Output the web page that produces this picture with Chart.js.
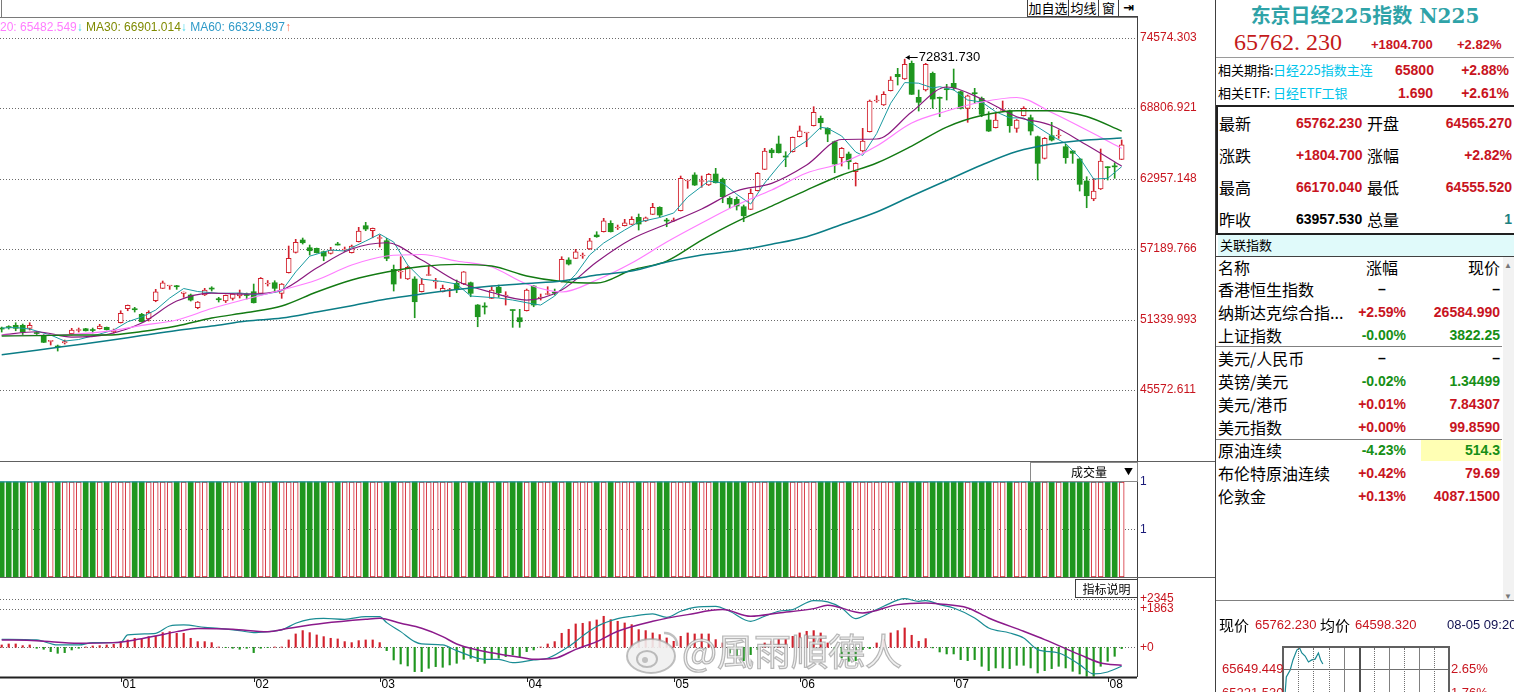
<!DOCTYPE html>
<html lang="zh-CN">
<head>
<meta charset="utf-8">
<title>东京日经225指数 N225</title>
<script src="https://cdn.jsdelivr.net/npm/chart.js@4.4.1/dist/chart.umd.min.js"></script>
<style>
html,body{margin:0;padding:0;background:#fff}
body{position:relative;width:1514px;height:692px;overflow:hidden;font-family:"Liberation Sans",Arial,"Noto Sans CJK SC",sans-serif;color:#000}
canvas{position:absolute;display:block}
.a{position:absolute;height:20px;line-height:20px;white-space:nowrap}
</style>
</head>
<body>
<canvas id="kline" width="1215" height="443" style="left:0;top:18px"></canvas>
<canvas id="vol" width="1215" height="115" style="left:0;top:462px"></canvas>
<canvas id="macd" width="1215" height="114" style="left:0;top:578px"></canvas>
<canvas id="mini" width="166" height="45" style="left:1283px;top:647px"></canvas>
<script>
/* ── 日K 数据 (按画面读取) ── */
const priceTicks  = [45572.611, 51339.993, 57189.766, 62957.148, 68806.921, 74574.303];
const monthIdx    = [17, 36, 54, 75, 96, 114, 136, 158];
const monthLabels = ['01', '02', '03', '04', '05', '06', '07', '08'];

const opens = [
	50678,50760,50900,50900,50653,50266,50077,49582,49153,49442,
	50208,50472,50620,50513,50620,50735,50348,51114,52268,52244,
	51807,51419,52927,53949,54139,54114,53537,53397,52350,53397,
	53932,53068,52903,53125,53315,53438,53669,53537,54303,54411,
	53537,55234,56915,57929,57294,57245,56965,56833,57558,57105,
	56882,57789,59107,58696,58053,57871,55515,55292,54715,54715,
	53669,55004,54468,53669,53768,54361,54303,54411,52573,52449,
	53125,54032,53315,52161,51527,52103,54139,53150,53438,53603,
	54493,56281,56421,56611,57188,58341,58614,59305,58918,59107,
	59223,59799,59495,60047,60623,59536,59495,60343,62791,63285,
	62749,62461,63367,62931,61365,61283,60673,60459,61991,63755,
	65345,65839,64809,65205,66441,66746,67347,67957,67133,66029,
	64710,65015,63557,65263,66853,69383,69053,70231,71583,71195,
	72489,69688,70289,71665,69688,70372,70841,70149,68781,70042,
	69605,67817,67183,68600,68559,67133,68171,68007,66441,64661,
	66523,66499,65617,65263,64603,62791,61308,62131,63944,64030,
	64565.27];
const highs = [
	50760,50868,51114,51007,51114,50373,50142,49648,49277,49690,
	50653,50678,50653,50678,50982,50760,50595,52103,52573,52384,
	51889,52103,53867,54551,54197,54197,53644,53479,52861,53949,
	54081,53207,53397,53521,53809,53562,54303,54839,54592,54575,
	54345,57435,57986,58094,57517,57270,57023,57328,57740,57352,
	57517,58976,59388,58918,58341,58069,55869,56553,55787,54905,
	54773,55787,54773,54221,53949,54633,55333,54468,52614,52762,
	54081,54221,53669,52161,52219,53891,54180,53479,54081,53891,
	56553,56470,57162,56858,58069,58614,59718,59520,59165,59634,
	59849,60072,59824,60953,60673,59718,59742,63203,62873,63475,
	63203,63409,63837,63038,61497,61472,60813,62131,63491,65485,
	65485,66499,65205,66417,67323,66787,68913,68147,67183,66087,
	65551,65180,64299,67133,69465,69819,70149,71385,72077,72831.73,
	72679,70289,72489,71772,69712,70759,72019,70207,69877,70429,
	69712,68501,68369,69383,68641,67858,68913,68229,66499,66375,
	67627,66993,65815,65303,64644,63145,63013,65428,63969,64299,
	66170.04];
const lows = [
	50348,50595,50455,50101,50513,50077,49483,49277,48783,49360,
	50101,50348,50431,50266,50595,50513,50266,51090,52103,51996,
	51173,51255,52845,53933,53867,53867,53208,52903,52268,53356,
	53727,52820,52779,52985,53150,53068,52738,53479,54139,53751,
	53125,55210,56858,57599,56693,56858,56223,56775,57517,56981,
	56858,57764,58696,58118,57352,56223,53727,54773,54674,51527,
	53644,55004,53949,53644,53257,53587,54262,53257,50785,51831,
	53109,53208,52573,50735,50735,52079,52433,52985,53438,53397,
	54468,55869,56405,56421,57147,58152,58589,58589,58794,59083,
	59206,58753,59454,60031,59824,59025,59454,60319,62189,62420,
	62272,62420,62626,61003,60541,60401,59437,60442,61967,63738,
	64710,65098,63969,65180,66417,65617,67323,67051,66029,63474,
	64027,63779,62379,65180,66828,69276,69012,70207,70701,71154,
	69918,68559,70207,68781,68089,69465,70289,68724,67627,69193,
	68089,66869,67158,68501,66804,66804,68147,66581,62873,64603,
	66087,66309,64249,64249,61967,60591,61167,62091,62873,63013,
	64555.52];
const closes = [
	50595,50719,50653,50348,50900,50225,49500,49631,49112,49566,
	50513,50513,50455,50472,50843,50538,50513,51889,52548,52186,
	51197,51971,53669,54411,54197,54081,53644,52985,52820,53809,
	53891,53010,53372,53479,53562,53356,52763,54773,54386,53949,
	54303,56420,57739,57706,57047,56882,56611,57105,57517,57188,
	57435,58671,58835,58893,58135,56420,54303,55375,55680,52845,
	54303,55045,54509,53949,53809,53867,55316,53537,51609,52408,
	53809,53587,53397,52120,51197,53809,52573,53232,53479,53562,
	56338,55951,56965,56652,57871,58201,59520,58614,58976,59355,
	59635,59247,59767,60623,59989,59495,59536,63013,62815,62461,
	62832,63343,62650,61497,60895,60731,59931,61777,63425,65263,
	65122,65122,64768,66392,66935,66770,68452,67594,66663,64191,
	65485,64381,64249,66087,69383,69424,69935,71113,71385,72407,
	69935,69275,72407,69547,69605,70314,70479,68781,69819,69984,
	68287,66911,67817,68641,67347,67817,68781,66911,64249,66309,
	66169,66540,64710,65073,62518,61579,61967,64439,63887,63957.53,
	65762.23];

/* ── 均线 (按画面采样) ── */
const maIdx = [0,5,10,15,20,25,30,35,40,45,50,55,60,65,70,75,80,85,90,95,100,105,110,115,120,125,130,135,140,145,150,155,160];
const ma10 = [50101,50373,49936,50142,51090,52902,53562,53480,53809,55622,57188,57706,56281,54551,53603,52985,53809,56117,58011,59247,60483,61967,62601,64109,66210,66252,68476,70536,69548,68089,67364,65757,64027];
const ma20 = [50093,50068,50151,50396,50891,51337,52285,53068,53809,54633,55869,56611,56735,56199,55705,54304,53645,54633,56034,57764,59330,60813,62049,63450,64274,65674,67570,68559,69300,69671,68435,66993,65483];
const ma30 = [50019,50052,50101,50101,50390,50843,51502,51955,52491,53645,54633,55292,55745,55927,55787,54963,54510,54386,55457,56199,57929,59453,60731,62049,63285,64274,65675,67240,68188,68583,68583,68105,66901];
const ma60 = [48480,48850,49240,49630,50060,50480,50840,51260,51500,52000,52520,53070,53480,53850,54140,54350,54550,55050,55370,56120,56690,57060,57580,58200,59210,60240,61560,62830,64110,65220,65840,66170,66330];
const ma5Idx = [0,2,4,7,9,11,14,16,18,20,22,24,26,28,31,34,37,40,42,44,47,49,52,54,56,58,60,63,65,67,71,73,76,77,79,82,84,86,89,91,94,96,98,101,103,105,107,109,111,113,115,117,118,120,122,123,125,127,129,131,133,134,136,138,140,142,144,146,148,150,152,154,156,158,160];
const ma5 = [50678,50719,50595,50101,49607,49731,50183,50513,51197,51584,52161,53150,53933,53686,53537,53562,53397,53727,55300,56600,57105,57023,57847,58424,57764,55869,54715,54509,54303,53315,53150,52985,52655,52573,53315,55100,56700,57682,58753,59412,59783,60154,61472,62791,62626,61700,60893,62626,64027,65345,66100,67216,67133,66499,65180,64900,66700,69200,70900,70850,70454,70561,70300,69465,69300,68501,68000,67982,67240,66499,65881,64700,62955,63013,63969];

/* ── 成交量 ── */
const volumes = [
	1,1,1,1,1,1,1,1,1,1, 1,1,1,1,1,1,1,1,1,1, 1,1,1,1,1,1,1,1,1,1, 1,1,1,1,1,1,1,1,1,1,
	1,1,1,1,1,1,1,1,1,1, 1,1,1,1,1,1,1,1,1,1, 1,1,1,1,1,1,1,1,1,1, 1,1,1,1,1,1,1,1,1,1,
	1,1,1,1,1,1,1,1,1,1, 1,1,1,1,1,1,1,1,1,1, 1,1,1,1,1,1,1,1,1,1, 1,1,1,1,1,1,1,1,1,1,
	1,1,1,1,1,1,1,1,1,1, 1,1,1,1,1,1,1,1,1,1, 1,1,1,1,1,1,1,1,1,1, 1,1,1,1,1,1,1,1,1,1,
	1];
const volMaIdx = [-0.3, 160];
const volMa    = [1, 1];
const volTicks = [0.5, 1];

/* ── MACD ── */
const macdHist = [
	112,160,160,80,112,-48,-96,-209,-289,-257,
	-129,-48,16,64,80,112,145,273,354,434,
	386,514,546,707,755,675,675,434,273,273,
	225,16,-16,-48,-96,-48,-257,-48,-16,16,
	16,354,643,804,707,595,514,434,402,273,
	225,321,354,354,225,-161,-611,-804,-900,-1173,
	-1173,-1012,-932,-964,-852,-771,-579,-530,-691,-771,
	-579,-530,-450,-370,-450,-209,-129,16,160,273,
	675,868,1125,1157,1237,1318,1495,1334,1253,1173,
	1093,852,804,691,611,450,289,530,691,643,
	643,643,370,209,-273,-434,-643,-354,-112,209,
	289,370,370,530,691,771,804,691,209,-225,
	-514,-675,-643,-112,-64,209,370,691,804,932,
	579,289,418,-30,-225,-321,-321,-595,-643,-595,
	-916,-1125,-996,-996,-1028,-868,-868,-996,-1237,-1125,
	-1028,-916,-996,-1157,-1286,-1398,-1398,-916,-675,-434,
	-64];
const difIdx = [0,5,8,11,13,17,18,22,24,26,29,31,34,36,38,40,42,44,46,49,52,54,55,57,59,60,63,65,69,71,73,76,78,81,83,85,88,90,93,95,97,99,102,104,107,109,111,113,116,118,120,122,124,126,129,131,132,134,136,139,141,144,146,148,151,154,156,158,160];
const dif = [386,354,112,112,225,240,595,675,1028,1077,964,916,804,707,755,836,1157,1350,1398,1350,1478,1478,1189,755,273,161,112,-161,-579,-579,-739,-611,-530,32,550,1000,1382,1495,1607,1446,1736,1928,1977,1736,1253,1495,1736,1816,2250,2186,1896,1382,1655,1977,2345,2218,2250,2057,1896,1414,932,691,450,-112,-273,-836,-1286,-1189,-916];
const deaIdx = [0,5,11,16,19,22,25,28,33,38,41,46,52,54,57,60,63,65,68,71,74,76,79,82,85,88,93,98,103,107,111,116,118,123,128,132,134,138,141,146,149,154,157,160];
const dea = [354,321,193,225,354,546,755,900,868,755,916,1157,1350,1398,1157,916,514,161,-129,-321,-482,-579,-530,-100,273,771,1253,1575,1816,1495,1655,1864,2025,1655,2057,2137,2089,1896,1414,771,370,-354,-755,-868];
const macdTicks = [0, 1863, 2345];

/* ── 分时 (右下小图) ── */
const minuteIdx = [4, 6, 13, 18, 25, 30, 34, 40, 46, 52, 58, 64, 68, 72];
const minutePct = [1.76, 2.34, 2.61, 3.0, 3.38, 3.46, 3.27, 3.15, 2.92, 3.0, 3.03, 3.27, 3.0, 2.84];

/* ════════════════════════════════
   公共设置 / 插件
   ════════════════════════════════ */
Chart.defaults.font.family = '"Liberation Sans", Arial, sans-serif';
Chart.defaults.font.size = 12;

const RED = '#d2202c', GREEN = '#1f961f', AXIS_RED = '#c8141e';
const X_MIN = -0.243, X_MAX = 162.19;
const isUp = closes.map(function(c, i) { return c >= opens[i]; });

function pts(idx, vals) {
	return idx.map(function(x, k) { return { x: x, y: vals[k] }; });
}

function xAxis() {
	return { type: 'linear', min: X_MIN, max: X_MAX, display: false, offset: false };
}

// 右侧价格轴: 宽度固定 78, 不留标签内边距
function yAxis(min, max, ticks, fmt, color) {
	return {
		position: 'right', min: min, max: max, offset: false, beginAtZero: false,
		afterBuildTicks: function(s) { s.ticks = ticks.map(function(v) { return { value: v }; }); },
		afterFit: function(s) { s.width = 78; s.paddingTop = 0; s.paddingBottom = 0; },
		grid: { display: false, drawTicks: false },
		border: { display: false },
		ticks: { autoSkip: false, padding: 3, color: color, font: { size: 12 }, callback: fmt }
	};
}

function lineSet(idx, vals, color, width, smooth) {
	return {
		type: 'line', data: pts(idx, vals), borderColor: color, borderWidth: width,
		pointRadius: 0, fill: false, tension: smooth ? 0.3 : 0,
		cubicInterpolationMode: smooth ? 'monotone' : 'default', order: 1
	};
}

const baseOptions = {
	responsive: false, animation: false, events: [],
	layout: { padding: 0 },
	plugins: { legend: { display: false }, tooltip: { enabled: false } }
};

// 点状网格线
const dotGrid = {
	id: 'dotGrid',
	beforeDatasetsDraw: function(chart, args, opts) {
		const a = chart.chartArea, y = chart.scales.y, ctx = chart.ctx;
		const vals = opts.values || y.ticks.map(function(t) { return t.value; });
		ctx.save();
		ctx.strokeStyle = '#6a6a6a';
		ctx.lineWidth = 1;
		ctx.setLineDash([1, 2]);
		vals.forEach(function(v) {
			const py = Math.round(y.getPixelForValue(v)) + 0.5;
			ctx.beginPath(); ctx.moveTo(a.left, py); ctx.lineTo(a.right, py); ctx.stroke();
		});
		ctx.restore();
	}
};

// 最高价标注
const peakLabel = {
	id: 'peakLabel',
	afterDatasetsDraw: function(chart) {
		let k = 0;
		highs.forEach(function(h, i) { if (h > highs[k]) k = i; });
		const ctx = chart.ctx;
		const px = chart.scales.x.getPixelForValue(k);
		const py = Math.round(chart.scales.y.getPixelForValue(highs[k])) - 1.5;
		ctx.save();
		ctx.strokeStyle = '#000'; ctx.fillStyle = '#000'; ctx.lineWidth = 1;
		ctx.beginPath(); ctx.moveTo(px + 1, py); ctx.lineTo(px + 13, py); ctx.stroke();
		ctx.beginPath(); ctx.moveTo(px + 1, py); ctx.lineTo(px + 5, py - 2.5); ctx.lineTo(px + 5, py + 2.5); ctx.closePath(); ctx.fill();
		ctx.font = '13px "Liberation Sans", Arial';
		ctx.textBaseline = 'middle';
		ctx.fillText(highs[k].toFixed(3), px + 14, py);
		ctx.restore();
	}
};

// 底部月份轴
const monthAxis = {
	id: 'monthAxis',
	afterDraw: function(chart) {
		const a = chart.chartArea, x = chart.scales.x, ctx = chart.ctx;
		ctx.save();
		ctx.strokeStyle = '#202020';
		ctx.lineWidth = 2;
		ctx.beginPath(); ctx.moveTo(0, a.bottom + 0.5); ctx.lineTo(a.right, a.bottom + 0.5); ctx.stroke();
		ctx.lineWidth = 1;
		ctx.fillStyle = '#000';
		ctx.font = '12px "Liberation Sans", Arial';
		ctx.textBaseline = 'middle';
		monthIdx.forEach(function(m, k) {
			const px = Math.round(x.getPixelForValue(m)) + 0.5;
			ctx.beginPath(); ctx.moveTo(px, a.bottom); ctx.lineTo(px, a.bottom + 5); ctx.stroke();
			ctx.fillText(monthLabels[k], px + 1, a.bottom + 8);
		});
		ctx.restore();
	}
};

/* ════════════════════════════════
   K线主图
   ════════════════════════════════ */
new Chart(document.getElementById('kline'), {
	type: 'bar',
	data: {
		datasets: [
			{
				data: closes.map(function(c, i) { return { x: i, y: [lows[i], highs[i]] }; }),
				backgroundColor: isUp.map(function(u) { return u ? RED : GREEN; }),
				barThickness: 1, grouped: false, order: 3
			},
			{
				data: closes.map(function(c, i) { return { x: i, y: [opens[i], c] }; }),
				backgroundColor: isUp.map(function(u) { return u ? '#ffffff' : GREEN; }),
				borderColor: isUp.map(function(u) { return u ? RED : GREEN; }),
				borderWidth: isUp.map(function(u) { return u ? 1 : 0; }),
				borderSkipped: false, barThickness: 5, minBarLength: 1, grouped: false, order: 2
			},
			lineSet(maIdx, ma60, '#0b7d86', 1.5, true),
			lineSet(maIdx, ma30, '#137a13', 1.4, true),
			lineSet(maIdx, ma20, '#ff7cff', 1.2, true),
			lineSet(maIdx, ma10, '#8a1a7e', 1.2, true),
			lineSet(ma5Idx, ma5, '#1a9aa0', 1, false)
		]
	},
	options: Object.assign({}, baseOptions, {
		scales: {
			x: xAxis(),
			y: yAxis(39723, 76222, priceTicks, function(v) { return v.toFixed(3); }, AXIS_RED)
		}
	}),
	plugins: [dotGrid, peakLabel]
});

/* ════════════════════════════════
   成交量
   ════════════════════════════════ */
new Chart(document.getElementById('vol'), {
	type: 'bar',
	data: {
		datasets: [
			{
				data: volumes.map(function(v, i) { return { x: i, y: v }; }),
				backgroundColor: isUp.map(function(u) { return u ? '#ffffff' : GREEN; }),
				borderColor: isUp.map(function(u) { return u ? RED : GREEN; }),
				borderWidth: isUp.map(function(u) { return u ? 1 : 0; }),
				borderSkipped: false, barThickness: 5, grouped: false, order: 2
			},
			lineSet(volMaIdx, volMa, '#1a8a94', 1.2, false)
		]
	},
	options: Object.assign({}, baseOptions, {
		plugins: Object.assign({}, baseOptions.plugins, { dotGrid: { values: [0.5] } }),
		scales: {
			x: xAxis(),
			y: yAxis(0, 1.21, volTicks, function() { return '1'; }, '#1a1a78')
		}
	}),
	plugins: [dotGrid]
});

/* ════════════════════════════════
   MACD
   ════════════════════════════════ */
new Chart(document.getElementById('macd'), {
	type: 'bar',
	data: {
		datasets: [
			{
				data: macdHist.map(function(v, i) { return { x: i, y: v }; }),
				backgroundColor: macdHist.map(function(v) { return v >= 0 ? RED : GREEN; }),
				barThickness: 1.5, grouped: false, order: 2
			},
			lineSet(deaIdx, dea, '#8b1a8b', 1.5, true),
			lineSet(difIdx, dif, '#1a8c94', 1.2, true)
		]
	},
	options: Object.assign({}, baseOptions, {
		layout: { padding: { top: 0, left: 0, right: 0, bottom: 15 } },
		scales: {
			x: xAxis(),
			y: yAxis(-1432, 3340, macdTicks, function(v) { return '+' + v; }, AXIS_RED)
		}
	}),
	plugins: [dotGrid, monthAxis]
});

/* ── 分时小图 ── */
new Chart(document.getElementById('mini'), {
	type: 'line',
	data: { datasets: [ lineSet(minuteIdx, minutePct, '#1a8a94', 1.2, false) ] },
	options: Object.assign({}, baseOptions, {
		scales: {
			x: { type: 'linear', min: 0, max: 300, display: false },
			y: { type: 'linear', min: 1.76, max: 3.5, display: false }
		}
	})
});

/* ════════════════════════════════
   外框 / 文字
   ════════════════════════════════ */
const CJK = 'font-family:"Noto Sans CJK SC",sans-serif;';
const NUM = 'font-family:"Liberation Sans",Arial,sans-serif;font-weight:bold;';
const TXT_RED = '#c8141e', TXT_GRN = '#168f16', LINK = '#00c4ea';

function box(x, y, w, h, css) {
	const d = document.createElement('div');
	d.style.cssText = 'position:absolute;left:' + x + 'px;top:' + y + 'px;width:' + w + 'px;height:' + h + 'px;' + (css || '');
	document.body.appendChild(d);
	return d;
}

function put(text, x, y, css, align) {
	const d = document.createElement('div');
	d.className = 'a';
	d.textContent = text;
	d.style.cssText = 'top:' + (y - 10) + 'px;' + (css || '');
	if (align === 'r') d.style.right = (1514 - x) + 'px';
	else if (align === 'c') { d.style.left = x + 'px'; d.style.transform = 'translateX(-50%)'; }
	else d.style.left = x + 'px';
	document.body.appendChild(d);
	return d;
}

// 分隔线
box(0, 17, 1137, 1, 'background:#7a7a7a');
box(1, 0, 1, 17, 'background:#7a7a7a');
box(1137, 17, 1, 660, 'background:#404040');
box(1215, 0, 1, 692, 'background:#404040');
box(0, 461, 1215, 1, 'background:#606060');
box(0, 577, 1215, 1, 'background:#606060');

// 工具按钮
[['加自选', 1027, 40], ['均线', 1068, 29], ['窗', 1098, 19], ['⇥', 1118, 19]].forEach(function(b) {
	const d = box(b[1], 0, b[2], 16, 'border-left:1px solid #404040;border-bottom:1px solid #404040;background:#fff;text-align:center;font-size:13px;line-height:16px;' + CJK + (b[0] === '⇥' ? 'font-weight:bold;font-family:"DejaVu Sans";' : ''));
	d.textContent = b[0];
});

// 均线说明
const leg = box(0, 20, 420, 14, 'font:12px "Liberation Sans",Arial,"DejaVu Sans";line-height:14px;white-space:nowrap');
leg.innerHTML = '<span style="color:#ff7dff">20: 65482.549</span><span style="color:#3fd6ea">↓</span> '
	+ '<span style="color:#7f8a00">MA30: 66901.014</span><span style="color:#3fd6ea">↓</span> '
	+ '<span style="color:#2f9ac8">MA60: 66329.897</span><span style="color:#ff7050">↑</span>';

// 成交量 / 指标说明 按钮
const volBox = box(1030, 462, 106, 18, 'border:1px solid #8a8a8a;background:#fff;font-size:12px;line-height:18px;' + CJK);
volBox.innerHTML = '<span style="position:absolute;left:40px">成交量</span><span style="position:absolute;right:4px;font-size:9px">▼</span>';
const idxBox = box(1075, 579, 61, 17, 'border:1px solid #404040;background:#fff;font-size:12px;line-height:17px;text-align:center;' + CJK);
idxBox.textContent = '指标说明';

// 水印
const wm = box(624, 625, 300, 52, 'pointer-events:none');
wm.innerHTML = '<svg width="58" height="50" style="position:absolute;left:0;top:2px" viewBox="0 0 58 50">'
	+ '<ellipse cx="27" cy="29" rx="24" ry="17" fill="rgba(240,240,240,0.9)" stroke="rgba(150,150,150,0.6)" stroke-width="2"/>'
	+ '<ellipse cx="23" cy="32" rx="10" ry="8" fill="none" stroke="rgba(150,150,150,0.6)" stroke-width="2"/>'
	+ '<circle cx="21" cy="33" r="3" fill="rgba(160,160,160,0.6)"/>'
	+ '<path d="M40 6 A12 12 0 0 1 53 19" fill="none" stroke="rgba(150,150,150,0.6)" stroke-width="2.5"/></svg>'
	+ '<span style="position:absolute;left:58px;top:0;font:37px \'Noto Sans CJK TC\',sans-serif;line-height:50px;color:rgba(240,240,240,0.92);-webkit-text-stroke:1.2px rgba(140,140,140,0.6);white-space:nowrap">@風雨順德人</span>';

/* ── 右侧行情面板 ── */
put('东京日经225指数 N225', 1365, 10, 'font:bold 20px "DejaVu Serif","Noto Sans CJK SC";color:#2fa3a8', 'c');
put('65762. 230', 1234, 42, 'font:24px "Liberation Serif",serif;color:#c41a1a;height:26px;line-height:26px;top:29px');
put('+1804.700', 1371, 45, NUM + 'font-size:13px;color:' + TXT_RED);
put('+2.82%', 1457, 45, NUM + 'font-size:13px;color:' + TXT_RED);
box(1216, 57, 298, 1, 'background:#9a9a9a');

const relatedLinks = [
	['相关期指:', '日经225指数主连', '65800', 1395, '+2.88%', 70],
	['相关ETF:',  '日经ETF工银',     '1.690', 1398, '+2.61%', 93]
];
relatedLinks.forEach(function(r) {
	put(r[0], 1218, r[5], CJK + 'font-size:13px');
	put(r[1], 1273, r[5], CJK + 'font-size:13px;color:' + LINK);
	put(r[2], r[3], r[5], NUM + 'font-size:14px;color:' + TXT_RED);
	put(r[4], 1509, r[5], NUM + 'font-size:14px;color:' + TXT_RED, 'r');
});

box(1216, 105, 298, 2, 'background:#202020');
box(1216, 105, 2, 130, 'background:#202020');
box(1216, 233, 298, 2, 'background:#202020');

const quoteRows = [
	['最新', '65762.230', TXT_RED, '开盘', '64565.270', TXT_RED, 123],
	['涨跌', '+1804.700', TXT_RED, '涨幅', '+2.82%', TXT_RED, 155],
	['最高', '66170.040', TXT_RED, '最低', '64555.520', TXT_RED, 187],
	['昨收', '63957.530', '#000', '总量', '1', '#208080', 219]
];
quoteRows.forEach(function(q) {
	put(q[0], 1219, q[6], CJK + 'font-size:16px');
	put(q[1], 1296, q[6], NUM + 'font-size:14px;color:' + q[2]);
	put(q[3], 1367, q[6], CJK + 'font-size:16px');
	put(q[4], 1512, q[6], NUM + 'font-size:14px;color:' + q[5], 'r');
});

box(1218, 235, 296, 21, 'background:#e0fafa');
put('关联指数', 1220, 245, CJK + 'font-size:13px');
box(1216, 256, 298, 1, 'background:#404040');

put('名称', 1218, 267, CJK + 'font-size:16px');
put('涨幅', 1382, 267, CJK + 'font-size:16px', 'c');
put('现价', 1500, 267, CJK + 'font-size:16px', 'r');

box(1421, 440, 80, 21, 'background:#ffffb4');
const relRows = [
	['香港恒生指数',      '–',      '–',         '#000',  289],
	['纳斯达克综合指...', '+2.59%', '26584.990', TXT_RED, 312],
	['上证指数',          '-0.00%', '3822.25',   TXT_GRN, 335],
	['美元/人民币',       '–',      '–',         '#000',  358],
	['英镑/美元',         '-0.02%', '1.34499',   TXT_GRN, 381],
	['美元/港币',         '+0.01%', '7.84307',   TXT_RED, 404],
	['美元指数',          '+0.00%', '99.8590',   TXT_RED, 427],
	['原油连续',          '-4.23%', '514.3',     TXT_GRN, 450],
	['布伦特原油连续',    '+0.42%', '79.69',     TXT_RED, 473],
	['伦敦金',            '+0.13%', '4087.1500', TXT_RED, 496]
];
relRows.forEach(function(r) {
	put(r[0], 1218, r[4], CJK + 'font-size:16px');
	if (r[1] === '–') put(r[1], 1382, r[4], NUM + 'font-size:14px', 'c');
	else put(r[1], 1406, r[4], NUM + 'font-size:14px;color:' + r[3], 'r');
	put(r[2], 1500, r[4], NUM + 'font-size:14px;color:' + r[3], 'r');
});
box(1216, 346, 286, 1, 'background:#808080');
box(1216, 439, 286, 1, 'background:#808080');

// 滚动条
box(1503, 257, 11, 343, 'background:#f2f2f2');
put('▲', 1508, 266, 'font-size:8px;color:#777', 'c');
put('▼', 1508, 597, 'font-size:8px;color:#777', 'c');
box(1216, 600, 298, 1, 'background:#808080');

put('现价', 1219, 625, CJK + 'font-size:15px');
put('65762.230', 1255, 625, 'font-size:13px;color:' + TXT_RED);
put('均价', 1320, 625, CJK + 'font-size:15px');
put('64598.320', 1355, 625, 'font-size:13px;color:' + TXT_RED);
put('08-05 09:20', 1447, 625, 'font-size:13px;color:#101050');

// 分时网格
box(1282, 646, 168, 2, 'background:#606060');
box(1282, 646, 2, 46, 'background:#606060');
box(1448, 646, 2, 46, 'background:#606060');
box(1284, 669, 164, 1, 'background:#707070');
[[1298, 'd'], [1313, 'd'], [1329, 'd'], [1344, 's'], [1359, 'S'], [1374, 'd'], [1389, 's'], [1404, 'd'], [1419, 's'], [1434, 'd']].forEach(function(g) {
	const css = g[1] === 'd' ? 'border-left:1px dotted #707070' : (g[1] === 'S' ? 'background:#505050' : 'background:#808080');
	box(g[0], 648, g[1] === 'S' ? 2 : 1, 44, css);
});
put('65649.449', 1222, 669, 'font-size:13px;color:' + TXT_RED);
put('2.65%', 1451, 669, 'font-size:13px;color:' + TXT_RED);
put('65221.530', 1222, 693, 'font-size:13px;color:' + TXT_RED);
put('1.76%', 1451, 693, 'font-size:13px;color:' + TXT_RED);
</script>
</body>
</html>
